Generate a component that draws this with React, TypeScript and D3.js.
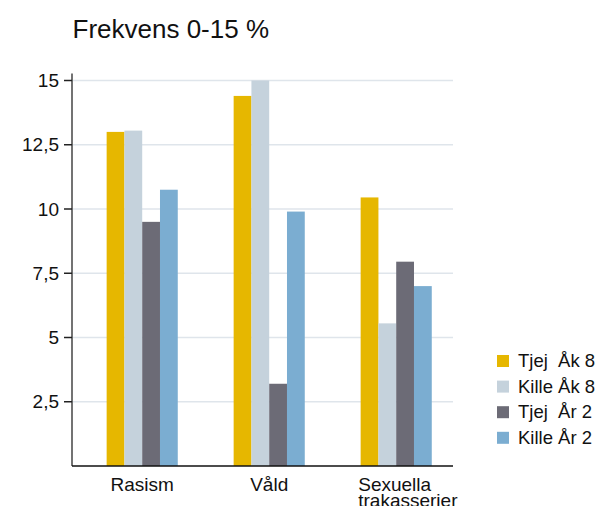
import React from "react";
import * as d3 from "d3";

const categories = ["Rasism", "Våld", "Sexuella\ntrakasserier"];
const seriesNames = ["Tjej  Åk 8", "Kille Åk 8", "Tjej  År 2", "Kille År 2"];
const tjejAk8 = [13.0, 14.4, 10.45];
const killeAk8 = [13.05, 15.0, 5.55];
const tjejAr2 = [9.5, 3.2, 7.95];
const killeAr2 = [10.75, 9.9, 7.0];
const colors = ["#e6b700", "#c5d2dc", "#6c6b76", "#7badd1"];
const yTicks = [2.5, 5, 7.5, 10, 12.5, 15];
const yTickLabels = ["2,5", "5", "7,5", "10", "12,5", "15"];
const title = "Frekvens 0-15 %";

const W = 601;
const H = 506;
const left = 72;
const right = 453;
const top = 80.5;
const bottom = 466;

export default function App() {
  const values = [tjejAk8, killeAk8, tjejAr2, killeAr2];
  const x0 = d3
    .scaleBand<string>()
    .domain(categories)
    .range([left, right])
    .paddingInner(0.44)
    .paddingOuter(0.22)
    .align(0.62);
  const x1 = d3
    .scaleBand<string>()
    .domain(seriesNames)
    .range([0, x0.bandwidth()])
    .padding(0);
  const y = d3.scaleLinear().domain([0, 15]).range([bottom, top]);
  const font = "Arial, 'Liberation Sans', sans-serif";

  return (
    <svg
      width={W}
      height={H}
      style={{ position: "absolute", left: 0, top: 0, background: "#fff" }}
      fontFamily={font}
    >
      <text x={72.5} y={38} fontSize={26} fill="#111">
        {title}
      </text>
      {yTicks.map((t) => (
        <line
          key={"g" + t}
          x1={left}
          x2={right}
          y1={y(t)}
          y2={y(t)}
          stroke="#dfe5eb"
          strokeWidth={1.5}
        />
      ))}
      {categories.map((c, ci) => (
        <g key={c} transform={`translate(${x0(c)},0)`}>
          {seriesNames.map((s, si) => (
            <rect
              key={s}
              x={x1(s)}
              y={y(values[si][ci])}
              width={x1.bandwidth()}
              height={bottom - y(values[si][ci])}
              fill={colors[si]}
            />
          ))}
        </g>
      ))}
      <line x1={left} x2={left} y1={y(15) - 7} y2={bottom} stroke="#444" strokeWidth={1.5} />
      {yTicks.map((t, i) => (
        <g key={"t" + t}>
          <line x1={left - 8} x2={left} y1={y(t)} y2={y(t)} stroke="#222" strokeWidth={1.5} />
          <text
            x={left - 13}
            y={y(t)}
            dy="0.35em"
            textAnchor="end"
            fontSize={19}
            fill="#111"
          >
            {yTickLabels[i]}
          </text>
        </g>
      ))}
      <line x1={left} x2={right} y1={bottom} y2={bottom} stroke="#111" strokeWidth={1.5} />
      {categories.map((c) => {
        const lines = c.split("\n");
        const cx = (x0(c) as number) + x0.bandwidth() / 2;
        if (lines.length === 1) {
          return (
            <text key={"l" + c} x={cx} y={491} textAnchor="middle" fontSize={19} fill="#111">
              {c}
            </text>
          );
        }
        return (
          <text key={"l" + c} x={cx - 38} y={491} fontSize={19} fill="#111">
            {lines.map((ln, i) => (
              <tspan key={i} x={cx - 38} dy={i === 0 ? 0 : 15.5}>
                {ln}
              </tspan>
            ))}
          </text>
        );
      })}
      {seriesNames.map((s, i) => (
        <g key={"lg" + s} transform={`translate(497,${355 + i * 25.6})`}>
          <rect x={0} y={0} width={12} height={12} fill={colors[i]} />
          <text x={21} y={12} fontSize={18.5} fill="#111" style={{ whiteSpace: "pre" }}>
            {s}
          </text>
        </g>
      ))}
    </svg>
  );
}
